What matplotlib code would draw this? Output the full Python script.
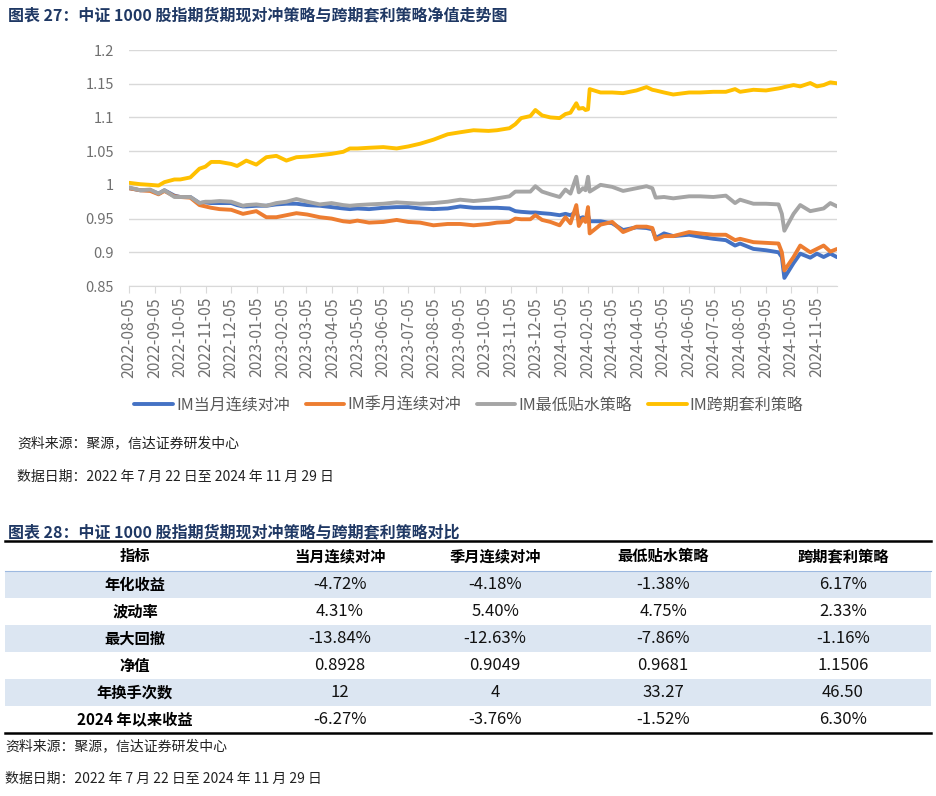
import matplotlib
matplotlib.use('Agg')
import matplotlib.pyplot as plt
import matplotlib.dates as mdates
from matplotlib.ticker import FuncFormatter
import pandas as pd

plt.rcParams['font.family'] = ['Noto Sans CJK SC', 'DejaVu Sans']

# ---- net value series ----
dates = ['2022-08-05', '2022-08-18', '2022-08-30', '2022-09-09', '2022-09-16', '2022-09-28',
         '2022-10-05', '2022-10-17', '2022-10-28', '2022-11-04', '2022-11-11', '2022-11-21',
         '2022-12-05', '2022-12-12', '2022-12-19', '2022-12-23', '2023-01-04', '2023-01-16',
         '2023-01-28', '2023-02-09', '2023-02-21', '2023-03-06', '2023-03-21', '2023-04-04',
         '2023-04-18', '2023-04-26', '2023-05-05',
         '2023-05-19', '2023-06-05', '2023-06-21', '2023-07-05', '2023-07-19', '2023-08-04',
         '2023-08-21', '2023-09-05', '2023-09-21', '2023-10-09', '2023-10-19', '2023-11-03',
         '2023-11-10', '2023-11-17', '2023-11-28', '2023-12-04', '2023-12-12', '2023-12-22',
         '2024-01-02', '2024-01-09', '2024-01-15', '2024-01-22', '2024-01-25', '2024-01-30',
         '2024-02-02', '2024-02-05', '2024-02-07',
         '2024-02-20', '2024-03-05', '2024-03-18', '2024-04-03', '2024-04-15', '2024-04-22',
         '2024-04-26', '2024-05-06', '2024-05-17', '2024-06-05', '2024-06-18', '2024-07-04',
         '2024-07-19', '2024-07-30', '2024-08-05', '2024-08-21', '2024-09-05', '2024-09-20',
         '2024-09-24', '2024-09-27', '2024-10-08', '2024-10-16', '2024-10-28', '2024-11-05',
         '2024-11-13', '2024-11-21', '2024-11-29']

im_month = [0.995, 0.992, 0.992, 0.987, 0.992, 0.984, 0.982, 0.982, 0.973, 0.974, 0.973, 0.973,
            0.973, 0.970, 0.968, 0.968, 0.969, 0.969, 0.971, 0.972, 0.972, 0.970, 0.969, 0.967,
            0.965, 0.964, 0.965,
            0.964, 0.966, 0.967, 0.967, 0.965, 0.964, 0.965, 0.968, 0.966, 0.966, 0.966, 0.965,
            0.961, 0.960, 0.959, 0.959, 0.958, 0.957, 0.955, 0.957, 0.955, 0.960, 0.950, 0.952,
            0.950, 0.955, 0.946,
            0.946, 0.943, 0.933, 0.937, 0.936, 0.934, 0.921, 0.928, 0.924, 0.926, 0.923, 0.920,
            0.918, 0.910, 0.913, 0.905, 0.903, 0.900, 0.893, 0.862, 0.884, 0.898, 0.892, 0.898,
            0.893, 0.898, 0.8928]

im_quarter = [0.995, 0.992, 0.991, 0.986, 0.991, 0.983, 0.982, 0.981, 0.970, 0.968, 0.966, 0.964,
              0.963, 0.960, 0.957, 0.958, 0.961, 0.952, 0.952, 0.955, 0.958, 0.956, 0.952, 0.950,
              0.946, 0.945, 0.947,
              0.944, 0.945, 0.948, 0.945, 0.944, 0.940, 0.942, 0.942, 0.940, 0.942, 0.944, 0.945,
              0.950, 0.949, 0.949, 0.955, 0.948, 0.945, 0.940, 0.952, 0.943, 0.970, 0.939, 0.950,
              0.945, 0.967, 0.928,
              0.941, 0.945, 0.930, 0.938, 0.938, 0.936, 0.919, 0.924, 0.924, 0.930, 0.928, 0.926,
              0.926, 0.918, 0.920, 0.915, 0.914, 0.913, 0.900, 0.873, 0.893, 0.910, 0.900, 0.905,
              0.910, 0.901, 0.9049]

im_lowest = [0.996, 0.992, 0.993, 0.987, 0.992, 0.982, 0.982, 0.982, 0.973, 0.975, 0.975, 0.976,
             0.975, 0.972, 0.969, 0.970, 0.971, 0.969, 0.973, 0.975, 0.979, 0.975, 0.971, 0.973,
             0.970, 0.969, 0.970,
             0.971, 0.972, 0.974, 0.973, 0.972, 0.973, 0.975, 0.978, 0.976, 0.978, 0.980, 0.983,
             0.990, 0.990, 0.990, 0.998, 0.990, 0.986, 0.982, 0.993, 0.987, 1.012, 0.989, 0.995,
             0.992, 1.012, 0.990,
             1.000, 0.997, 0.991, 0.995, 0.998, 0.995, 0.981, 0.982, 0.980, 0.983, 0.983, 0.982,
             0.984, 0.973, 0.978, 0.972, 0.972, 0.971, 0.957, 0.932, 0.957, 0.970, 0.961, 0.963,
             0.965, 0.973, 0.9681]

im_spread = [1.003, 1.001, 1.000, 0.999, 1.004, 1.008, 1.008, 1.011, 1.024, 1.027, 1.034, 1.034,
             1.031, 1.028, 1.033, 1.036, 1.030, 1.041, 1.043, 1.036, 1.041, 1.042, 1.044, 1.046,
             1.049, 1.054, 1.054,
             1.055, 1.056, 1.054, 1.057, 1.061, 1.067, 1.075, 1.078, 1.081, 1.080, 1.081, 1.084,
             1.090, 1.099, 1.102, 1.111, 1.103, 1.100, 1.099, 1.105, 1.107, 1.121, 1.113, 1.114,
             1.111, 1.112, 1.142,
             1.137, 1.137, 1.136, 1.140, 1.145, 1.141, 1.140, 1.137, 1.134, 1.137, 1.137, 1.138,
             1.138, 1.142, 1.138, 1.141, 1.140, 1.143, 1.144, 1.145, 1.148, 1.146, 1.151, 1.146,
             1.148, 1.152, 1.1506]

series_names = ['IM当月连续对冲', 'IM季月连续对冲', 'IM最低贴水策略', 'IM跨期套利策略']
colors = ['#4472C4', '#ED7D31', '#A5A5A5', '#FFC000']

# ---- comparison table ----
table_cols = ['指标', '当月连续对冲', '季月连续对冲', '最低贴水策略', '跨期套利策略']
table_rows = ['年化收益', '波动率', '最大回撤', '净值', '年换手次数', '2024 年以来收益']
col_month = ['-4.72%', '4.31%', '-13.84%', '0.8928', '12', '-6.27%']
col_quarter = ['-4.18%', '5.40%', '-12.63%', '0.9049', '4', '-3.76%']
col_lowest = ['-1.38%', '4.75%', '-7.86%', '0.9681', '33.27', '-1.52%']
col_spread = ['6.17%', '2.33%', '-1.16%', '1.1506', '46.50', '6.30%']

source = '资料来源：聚源，信达证券研发中心'
date_note = '数据日期：2022 年 7 月 22 日至 2024 年 11 月 29 日'
title1 = '图表 27：中证 1000 股指期货期现对冲策略与跨期套利策略净值走势图'
title2 = '图表 28：中证 1000 股指期货期现对冲策略与跨期套利策略对比'

W, H = 936, 796
fig = plt.figure(figsize=(W / 100, H / 100), dpi=100)
navy = '#1F3864'
grey_txt = '#707070'

# line chart
ax = fig.add_axes([129.3 / W, 1 - 286 / H, 707.7 / W, 236 / H])
x = pd.to_datetime(dates)
for vals, name, c in zip([im_month, im_quarter, im_lowest, im_spread], series_names, colors):
    ax.plot(x, vals, color=c, lw=2.8, label=name, solid_capstyle='round')

ax.set_xlim(pd.Timestamp('2022-08-05'), pd.Timestamp('2024-11-29'))
ax.set_ylim(0.85, 1.2)
ax.set_yticks([0.85, 0.9, 0.95, 1.0, 1.05, 1.1, 1.15, 1.2])
ax.yaxis.set_major_formatter(FuncFormatter(lambda v, p: '%g' % round(v, 2)))
ax.xaxis.set_major_locator(mdates.MonthLocator(bymonthday=5))
ax.xaxis.set_major_formatter(mdates.DateFormatter('%Y-%m-%d'))
ax.grid(axis='y', color='#D9D9D9', lw=1)
ax.set_axisbelow(True)
for s in ['top', 'right', 'left']:
    ax.spines[s].set_visible(False)
ax.spines['bottom'].set_color('#D9D9D9')
ax.tick_params(axis='y', length=0, labelsize=10.5, labelcolor=grey_txt, pad=11)
ax.tick_params(axis='x', length=5, color='#D9D9D9', labelsize=11.3, labelcolor=grey_txt,
               labelrotation=90, pad=3)

ax.legend(loc='center', bbox_to_anchor=(469 / W, 1 - 405 / H), bbox_transform=fig.transFigure,
          ncol=4, frameon=False, fontsize=11.5, handlelength=2.4, handletextpad=0.2,
          columnspacing=1.0, labelcolor='#595959')

# overlay in pixel coordinates for titles, notes and the table
ov = fig.add_axes([0, 0, 1, 1])
ov.set_xlim(0, W)
ov.set_ylim(H, 0)
ov.axis('off')

ov.text(8, 15, title1, fontsize=11.5, fontweight='bold', color=navy, va='center')
ov.text(17, 443, source, fontsize=10, style='italic', color='#222222', va='center')
ov.text(17, 477, date_note, fontsize=10, style='italic', color='#222222', va='center')
ov.text(8, 532, title2, fontsize=11.5, fontweight='bold', color=navy, va='center')

top, head_h, row_h = 541, 30, 27
col_x = [135, 340, 495, 663, 843]
ov.plot([5, 931], [top, top], color='black', lw=1.8)
for j, name in enumerate(table_cols):
    ov.text(col_x[j], top + head_h / 2, name, fontsize=11, fontweight='bold',
            ha='center', va='center', color='black')
values = [col_month, col_quarter, col_lowest, col_spread]
for i, rname in enumerate(table_rows):
    y0 = top + head_h + i * row_h
    if i % 2 == 0:
        ov.add_patch(plt.Rectangle((5, y0), 926, row_h, color='#DCE6F2', lw=0))
    ov.text(col_x[0], y0 + row_h / 2, rname, fontsize=11, fontweight='bold',
            ha='center', va='center', color='black')
    for j in range(4):
        ov.text(col_x[j + 1], y0 + row_h / 2, values[j][i], fontsize=12,
                ha='center', va='center', color='#111111')
ov.plot([5, 931], [top + head_h, top + head_h], color='#9DB9E0', lw=0.8)
bottom = top + head_h + len(table_rows) * row_h
ov.plot([5, 931], [bottom, bottom], color='black', lw=1.8)

ov.text(5, 746, source, fontsize=10, style='italic', color='#222222', va='center')
ov.text(5, 779, date_note, fontsize=10, style='italic', color='#222222', va='center')

fig.savefig('out.png', dpi=100)
